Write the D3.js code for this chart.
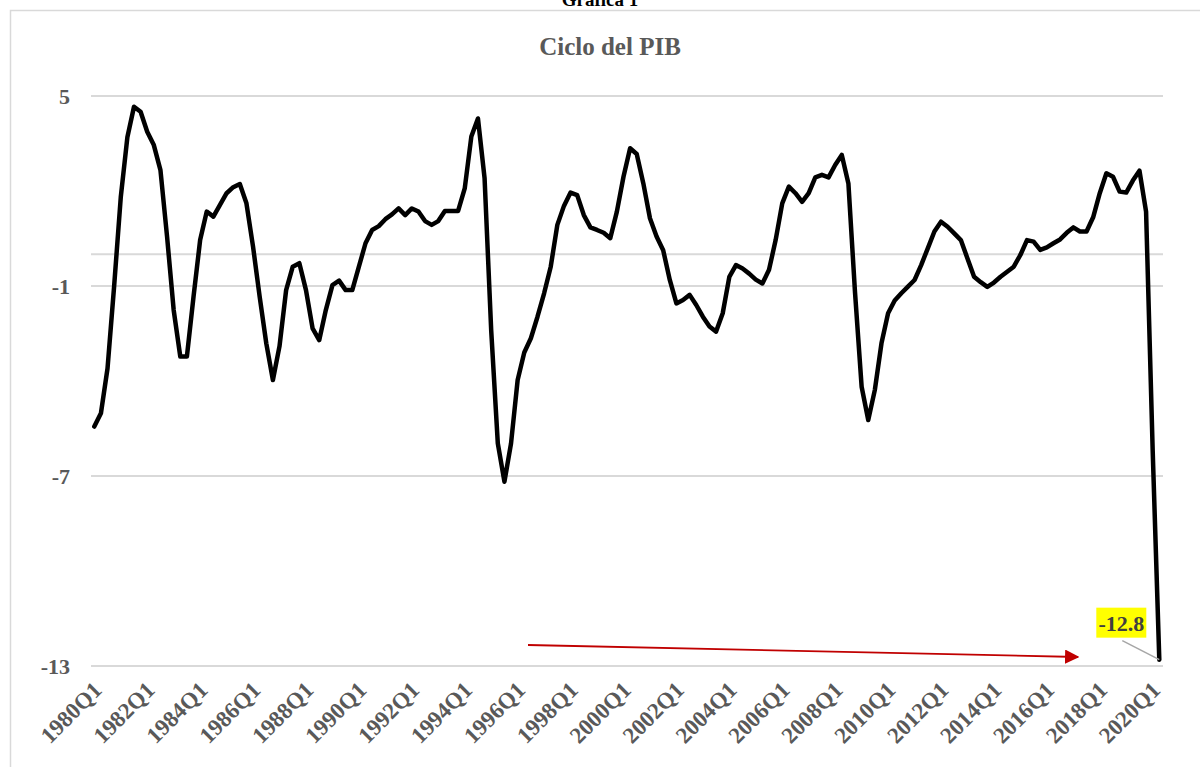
<!DOCTYPE html>
<html>
<head>
<meta charset="utf-8">
<script src="https://cdn.jsdelivr.net/npm/d3@7/dist/d3.min.js"></script>
<style>
  body { margin: 0; background: #fff; }
  svg { display: block; }
  text { font-family: "Palatino Linotype", "Book Antiqua", "Liberation Serif", serif; font-weight: bold; }
</style>
</head>
<body>
<svg id="svg0" width="1200" height="767"></svg>
<script>

// data: ciclo del PIB, trimestral 1980Q1 - 2020Q2
var years = d3.range(1980, 2021);
var quarters = [];
years.forEach(function (y) {
    ['Q1', 'Q2', 'Q3', 'Q4'].forEach(function (q) { quarters.push(y + q); });
});
quarters = quarters.slice(0, 162);

var ciclo = [
    -5.44, -5.02, -3.6, -1.0, 1.8, 3.7, 4.66, 4.5,
    3.87, 3.45, 2.66, 0.56, -1.76, -3.23, -3.23, -1.34,
    0.45, 1.35, 1.19, 1.56, 1.93, 2.12, 2.22, 1.61,
    0.24, -1.34, -2.81, -3.97, -2.9, -1.13, -0.39, -0.28,
    -1.13, -2.34, -2.71, -1.76, -0.97, -0.83, -1.13, -1.13,
    -0.39, 0.35, 0.77, 0.89, 1.11, 1.26, 1.45, 1.24,
    1.45, 1.35, 1.05, 0.93, 1.05, 1.37, 1.37, 1.37,
    2.08, 3.72, 4.29, 2.4, -2.4, -5.97, -7.18, -5.97,
    -3.97, -3.1, -2.65, -1.97, -1.23, -0.39, 0.93, 1.53,
    1.95, 1.87, 1.24, 0.85, 0.77, 0.68, 0.51, 1.35,
    2.45, 3.35, 3.17, 2.24, 1.14, 0.56, 0.13, -0.81,
    -1.55, -1.44, -1.28, -1.6, -1.97, -2.28, -2.44, -1.86,
    -0.71, -0.34, -0.45, -0.61, -0.8, -0.92, -0.49, 0.45,
    1.61, 2.14, 1.93, 1.66, 1.93, 2.43, 2.51, 2.43,
    2.82, 3.14, 2.24, -1.2, -4.18, -5.23, -4.28, -2.81,
    -1.86, -1.46, -1.23, -1.02, -0.81, -0.34, 0.19, 0.72,
    1.03, 0.87, 0.66, 0.45, -0.13, -0.71, -0.88, -1.03,
    -0.89, -0.71, -0.55, -0.39, -0.02, 0.45, 0.4, 0.14,
    0.22, 0.35, 0.47, 0.68, 0.85, 0.72, 0.72, 1.17,
    1.93, 2.56, 2.45, 1.98, 1.95, 2.33, 2.64, 1.35,
    -6.2, -12.8
];

var yTicks = [5, -1, -7, -13];
var xTickLabels = ['1980Q1', '1982Q1', '1984Q1', '1986Q1', '1988Q1', '1990Q1',
    '1992Q1', '1994Q1', '1996Q1', '1998Q1', '2000Q1', '2002Q1', '2004Q1',
    '2006Q1', '2008Q1', '2010Q1', '2012Q1', '2014Q1', '2016Q1', '2018Q1', '2020Q1'];

var width = 1200;
var height = 767;

var svg0 = d3.select('#svg0');

var x = d3.scalePoint()
    .domain(quarters)
    .range([94.3, 1159.3]);

var y = d3.scaleLinear()
    .domain([-13, 5])
    .range([666, 96]);

// chart frame
svg0.append('rect')
    .attr('x', 10.5)
    .attr('y', 10.5)
    .attr('width', 1220)
    .attr('height', 800)
    .attr('fill', 'none')
    .attr('stroke', '#d9d9d9')
    .attr('stroke-width', 1.5);

svg0.append('text')
    .attr('x', width / 2)
    .attr('y', 6)
    .attr('text-anchor', 'middle')
    .attr('font-size', 19)
    .attr('fill', '#000')
    .text('Gráfica 1');

svg0.append('text')
    .attr('x', width / 2 + 10)
    .attr('y', 55)
    .attr('text-anchor', 'middle')
    .attr('font-size', 25)
    .attr('fill', '#595959')
    .text('Ciclo del PIB');

// gridlines
svg0.append('g')
    .selectAll('line')
    .data(yTicks.concat([0]))
    .enter()
    .append('line')
    .attr('x1', 91)
    .attr('x2', 1163)
    .attr('y1', function (d) { return y(d); })
    .attr('y2', function (d) { return y(d); })
    .attr('stroke', '#d9d9d9')
    .attr('stroke-width', 2);

var yAxis = svg0.append('g')
    .attr('transform', 'translate(70,0)')
    .call(d3.axisLeft(y).tickValues(yTicks).tickSize(0).tickPadding(0)
        .tickFormat(function (d) { return String(d); }));
yAxis.select('.domain').remove();
yAxis.selectAll('text')
    .attr('font-family', null)
    .attr('font-size', 22)
    .attr('fill', '#595959')
    .attr('dy', '0.35em');

var xAxis = svg0.append('g')
    .attr('transform', 'translate(0,' + 680 + ')')
    .call(d3.axisBottom(x).tickValues(xTickLabels).tickSize(0).tickPadding(0));
xAxis.select('.domain').remove();
xAxis.selectAll('text')
    .attr('font-family', null)
    .attr('font-size', 23)
    .attr('fill', '#595959')
    .attr('text-anchor', 'end')
    .attr('dy', '0.7em')
    .attr('transform', 'translate(-3,0) rotate(-45)');

// red arrow
var defs0 = svg0.append('defs');
defs0.append('marker')
    .attr('id', 'arrow')
    .attr('viewBox', '0 0 10 10')
    .attr('refX', 9)
    .attr('refY', 5)
    .attr('markerWidth', 8)
    .attr('markerHeight', 8)
    .attr('markerUnits', 'strokeWidth')
    .attr('orient', 'auto')
    .append('path')
    .attr('d', 'M0,0 L10,5 L0,10 Z')
    .attr('fill', '#c00000');

svg0.append('line')
    .attr('x1', 528)
    .attr('y1', 645)
    .attr('x2', 1078)
    .attr('y2', 657)
    .attr('stroke', '#c00000')
    .attr('stroke-width', 1.8)
    .attr('marker-end', 'url(#arrow)');

// series
var line = d3.line()
    .x(function (d, i) { return x(quarters[i]); })
    .y(function (d) { return y(d); });

svg0.append('path')
    .datum(ciclo)
    .attr('d', line)
    .attr('fill', 'none')
    .attr('stroke', '#000')
    .attr('stroke-width', 4.5)
    .attr('stroke-linejoin', 'round')
    .attr('stroke-linecap', 'round');

// label of last value
var lastI = ciclo.length - 1;
var lx = x(quarters[lastI]);
var ly = y(ciclo[lastI]);

svg0.append('line')
    .attr('x1', lx - 37)
    .attr('y1', ly - 19)
    .attr('x2', lx)
    .attr('y2', ly)
    .attr('stroke', '#a6a6a6')
    .attr('stroke-width', 1.5);

svg0.append('rect')
    .attr('x', lx - 63)
    .attr('y', ly - 52)
    .attr('width', 50)
    .attr('height', 30)
    .attr('fill', '#ffff00');

svg0.append('text')
    .attr('x', lx - 38)
    .attr('y', ly - 29)
    .attr('text-anchor', 'middle')
    .attr('font-size', 22)
    .attr('fill', '#404040')
    .text(String(ciclo[lastI]));

</script>
</body>
</html>
